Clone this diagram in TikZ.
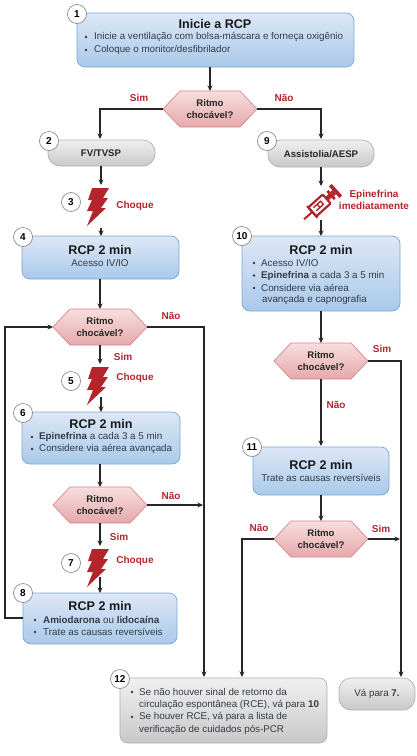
\documentclass[tikz,border=0pt]{standalone}
\usepackage{fontspec}
\setmainfont{Liberation Sans}
\usetikzlibrary{arrows.meta,shapes.misc,calc}
\definecolor{blueT}{HTML}{DDE7F6}
\definecolor{blueB}{HTML}{A9C9EA}
\definecolor{blueL}{HTML}{7CA6D2}
\definecolor{grayT}{HTML}{F0F0F0}
\definecolor{grayB}{HTML}{C8C8C8}
\definecolor{grayL}{HTML}{B0B0B0}
\definecolor{pinkT}{HTML}{F8DEDE}
\definecolor{pinkB}{HTML}{E5A8AB}
\definecolor{pinkL}{HTML}{D8868C}
\definecolor{redT}{HTML}{B3252B}
\definecolor{txt}{HTML}{333B45}
\newcommand{\fs}[1]{\fontsize{#1}{#1}\selectfont}
\tikzset{
 x=1pt,y=-1pt,
 flow/.style={draw=black!85,line width=1.05pt,-{Stealth[length=5.5pt,width=5pt]}},
 bluebox/.style={draw=blueL,line width=.7pt,rounded corners=8pt,top color=blueT,bottom color=blueB},
 graybox/.style={draw=grayL,line width=.7pt,rounded corners=8pt,top color=grayT,bottom color=grayB},
 pill/.style={draw=grayL,line width=.7pt,rounded corners=12pt,top color=grayT,bottom color=grayB},
 hexa/.style={draw=pinkL,line width=.7pt,top color=pinkT,bottom color=pinkB},
 numc/.style={circle,draw=black!45,line width=.7pt,fill=white,minimum size=19pt,inner sep=0pt,font=\fs{10}\bfseries},
 lab/.style={font=\fs{10}\bfseries,text=redT,align=center,inner sep=0pt},
 hext/.style={font=\fs{9.6}\bfseries\linespread{1.0},align=center,text=black!85,inner sep=0pt},
 head/.style={font=\fs{12.6}\bfseries,text=black!90,inner sep=0pt},
 body/.style={font=\fs{9.8},text=txt,anchor=west,inner sep=0pt},
 bul/.style={circle,fill=txt,inner sep=0pt,minimum size=2.6pt},
}
\newcommand{\hexat}[2]{% name, center
 \path[hexa] ($(#2)+(-47,0)$) -- ($(#2)+(-30,-18)$) -- ($(#2)+(30,-18)$) -- ($(#2)+(47,0)$) -- ($(#2)+(30,18)$) -- ($(#2)+(-30,18)$) -- cycle;
 \coordinate (#1L) at ($(#2)+(-47,0)$);\coordinate (#1R) at ($(#2)+(47,0)$);
 \coordinate (#1T) at ($(#2)+(0,-18)$);\coordinate (#1B) at ($(#2)+(0,18)$);
 \node[hext] (#1t) at (#2) {Ritmo\\[3pt]chocável?};
}
\newcommand{\boltat}[2]{% name, top-left offset origin
 \fill[redT,shift={(#2)}] (5,0) -- (22,0) -- (16,10) -- (21,10) -- (14,20) -- (19,20) -- (0,38) -- (6,23) -- (0,23) -- (5,12) -- (1,12) -- cycle;
 \coordinate (#1) at ($(#2)+(11,19)$);
}
\begin{document}
\begin{tikzpicture}
\useasboundingbox (0,0) rectangle (417,756);
% boxes
\path[bluebox] (77,13) rectangle (354,67);
\path[pill] (48,140) rectangle (155,166);
\path[pill] (268,140) rectangle (374,167);
\path[bluebox] (22,236) rectangle (179,279);
\path[bluebox] (242,236) rectangle (400,311);
\path[bluebox] (22,412) rectangle (180,464);
\path[bluebox] (253,447) rectangle (389,495);
\path[bluebox] (23,593) rectangle (177,644);
\path[graybox] (120,678) rectangle (327,743);
\path[pill] (339,678) rectangle (415,710);
% hexagons
\hexat{ha}{210,109}
\hexat{hb}{100,327}
\hexat{hc}{100,505}
\hexat{hd}{321,361}
\hexat{he}{321,539}
% bolts
\boltat{ba}{87,188}
\boltat{bb}{87,367}
\boltat{bc}{87,549}
% named coords for connectors
\coordinate (c1) at (210,67);
\coordinate (c2t) at (100,139);
\coordinate (c9t) at (321,139);
\coordinate (c2b) at (101,166);
\coordinate (c3t) at (101,185);
\coordinate (c3b) at (101,228);
\coordinate (c4t) at (101,236);
\coordinate (c9b) at (321,167);
\coordinate (csyt) at (321,186);
\coordinate (csyb) at (321,220);
\coordinate (c10t) at (321,236);
\coordinate (c4b) at (100,279);
\coordinate (c5t) at (100,364);
\coordinate (c5b) at (101,397);
\coordinate (c6t) at (101,412);
\coordinate (c6b) at (100,464);
\coordinate (c7t) at (100,546);
\coordinate (c7b) at (100,577);
\coordinate (c8t) at (100,593);
\coordinate (c8l) at (23,618);
\coordinate (c10b) at (321,311);
\coordinate (c11t) at (321,446);
\coordinate (c11b) at (321,495);
\coordinate (c12a) at (204,677);
\coordinate (c12b) at (242,677);
\coordinate (c13) at (401,677);
% connectors
\draw[flow] (c1) -- (haT);
\draw[flow] (haL) -| (c2t);
\draw[flow] (haR) -| (c9t);
\draw[flow] (c2b) -- (c3t);
\draw[flow] (c3b) -- (c4t);
\draw[flow] (c9b) -- (csyt);
\draw[flow] (csyb) -- (c10t);
\draw[flow] (c4b) -- (hbT);
\draw[flow] (hbB) -- (c5t);
\draw[flow] (c5b) -- (c6t);
\draw[flow] (c6b) -- (hcT);
\draw[flow] (hcB) -- (c7t);
\draw[flow] (c7b) -- (c8t);
\draw[flow] (c8l) -- (5,618) -- (5,327) -- (hbL);
\draw[flow] (hbR) -| (c12a);
\draw[flow] (hcR) -- (203,505);
\draw[flow] (c10b) -- (hdT);
\draw[flow] (hdB) -- (c11t);
\draw[flow] (c11b) -- (heT);
\draw[flow] (hdR) -| (c13);
\draw[flow] (heR) -- (400,539);
\draw[flow] (heL) -| (c12b);
% circles
\node[numc] (n1) at (77,14) {1};
\node[numc] (n2) at (49,141) {2};
\node[numc] (n3) at (71,202) {3};
\node[numc] (n4) at (23,237) {4};
\node[numc] (n5) at (71,381) {5};
\node[numc] (n6) at (23,413) {6};
\node[numc] (n7) at (71,563) {7};
\node[numc] (n8) at (23,593) {8};
\node[numc] (n9) at (267,141) {9};
\node[numc] (n10) at (242,236) {10};
\node[numc] (n11) at (252,447) {11};
\node[numc] (n12) at (120,679) {12};
% syringe: x axis runs from needle (lower left) to plunger (upper right)
\begin{scope}[shift={(320.5,204.5)},rotate=42,scale=.92]
 \draw[redT,line width=2.2pt,rounded corners=1pt,fill=white] (-12,-6.5) rectangle (9,6.5);
 \draw[redT,line width=2.2pt] (-12,-8.500) -- (-12,8.500);
 \fill[redT] (9,-2.5) rectangle (16,2.5);
 \fill[redT] (14,-6) rectangle (17,6);
 \fill[redT] (17,-3) rectangle (20,3);
 \fill[redT] (20,-8.500) rectangle (24,8.500);
 \fill[redT] (-24,-1.1) rectangle (-12,1.1);
 \draw[redT,line width=1.4pt] (-8,-2.6) -- (3,-2.6) (-8,2) -- (3,2) (-2.500,-2.6) -- (-2.500,2) (2.5,-2.6) -- (2.5,2);
\end{scope}
% texts
\node[head] (t1) at (215,24) {Inicie a RCP};
\node[body] (t1a) at (94,37) {Inicie a ventilação com bolsa-máscara e forneça oxigênio};
\node[body] (t1b) at (94,50) {Coloque o monitor/desfibrilador};
\node[bul] (d1a) at (86,37) {}; \node[bul] (d1b) at (86,50) {};
\node[hext] (t2) at (101,153) {FV/TVSP};
\node[hext] (t9) at (321,154) {Assistolia/AESP};
\node[head] (t4) at (100,250) {RCP 2 min};
\node[body,anchor=center] (t4a) at (100,263) {Acesso IV/IO};
\node[head] (t10) at (321,250) {RCP 2 min};
\node[body] (t10a) at (261,263) {Acesso IV/IO};
\node[body] (t10b) at (261,275.500) {\textbf{Epinefrina} a cada 3 a 5 min};
\node[body] (t10c) at (261,288) {Considere via aérea};
\node[body] (t10d) at (262,300) {avançada e capnografia};
\node[bul] (d10a) at (254,263) {}; \node[bul] (d10b) at (254,275.500) {}; \node[bul] (d10c) at (254,288) {};
\node[head] (t6) at (101,424) {RCP 2 min};
\node[body] (t6a) at (39,437) {\textbf{Epinefrina} a cada 3 a 5 min};
\node[body] (t6b) at (39,449) {Considere via aérea avançada};
\node[bul] (d6a) at (32,437) {}; \node[bul] (d6b) at (32,449) {};
\node[head] (t11) at (321,465) {RCP 2 min};
\node[body,anchor=center] (t11a) at (321,478) {Trate as causas reversíveis};
\node[head] (t8) at (100,606) {RCP 2 min};
\node[body] (t8a) at (43,620) {\textbf{Amiodarona} ou \textbf{lidocaína}};
\node[body] (t8b) at (43,632) {Trate as causas reversíveis};
\node[bul] (d8a) at (35,620) {}; \node[bul] (d8b) at (35,632) {};
\node[body] (t12a) at (139,692) {Se não houver sinal de retorno da};
\node[body] (t12b) at (139,704.500) {circulação espontânea (RCE), vá para \textbf{10}};
\node[body] (t12c) at (139,717) {Se houver RCE, vá para a lista de};
\node[body] (t12d) at (139,729.500) {verificação de cuidados pós-PCR};
\node[bul] (d12a) at (132,692) {}; \node[bul] (d12c) at (132,717) {};
\node[body,anchor=center] (t13) at (377,694) {Vá para \textbf{7.}};
% labels
\node[lab] (l1) at (139,98) {Sim};
\node[lab] (l2) at (284,98) {Não};
\node[lab] (l3) at (135,206) {Choque};
\node[lab] (l4) at (374,200) {Epinefrina\\[1.5pt]imediatamente};
\node[lab] (l5) at (171,316) {Não};
\node[lab] (l6) at (123,357) {Sim};
\node[lab] (l7) at (135,378) {Choque};
\node[lab] (l8) at (382,349) {Sim};
\node[lab] (l9) at (336,405) {Não};
\node[lab] (l10) at (171,496) {Não};
\node[lab] (l11) at (119,537) {Sim};
\node[lab] (l12) at (135,561) {Choque};
\node[lab] (l13) at (259,528) {Não};
\node[lab] (l14) at (381,529) {Sim};
\end{tikzpicture}
\end{document}
